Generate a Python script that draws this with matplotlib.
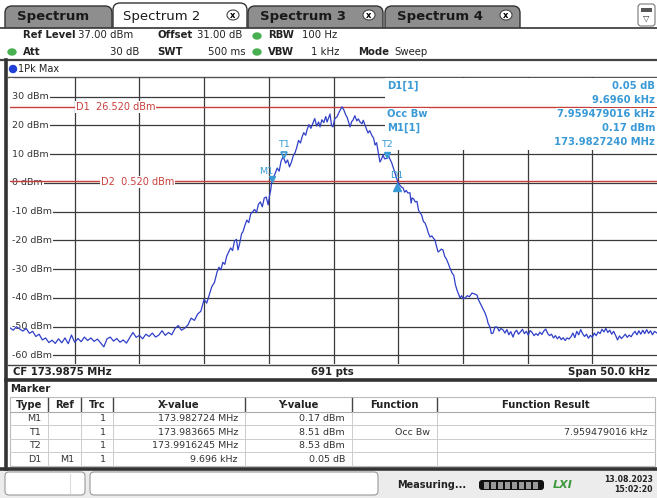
import matplotlib.pyplot as plt
from matplotlib.patches import Rectangle, FancyBboxPatch, Ellipse

# analyzer settings
center_mhz = 173.9875
span_khz = 50.0
ref_level = 37.0
n_points = 691
d1_level = 26.52
d2_level = 0.52
y_ticks = [30, 20, 10, 0, -10, -20, -30, -40, -50, -60]

# trace (offset from CF in kHz, level in dBm)
freq_khz = [
    -25.00, -24.75, -24.50, -24.25, -24.00, -23.75, -23.50, -23.25, -23.00, -22.75,
    -22.50, -22.25, -22.00, -21.75, -21.50, -21.25, -21.00, -20.75, -20.50, -20.25,
    -20.00, -19.75, -19.50, -19.25, -19.00, -18.75, -18.50, -18.25, -18.00, -17.75,
    -17.50, -17.25, -17.00, -16.75, -16.50, -16.25, -16.00, -15.75, -15.50, -15.25,
    -15.00, -14.75, -14.50, -14.25, -14.00, -13.75, -13.50, -13.25, -13.00, -12.75,
    -12.50, -12.25, -12.00, -11.75, -11.50, -11.25, -11.00, -10.75, -10.50, -10.25,
    -10.00, -9.80, -9.60, -9.40, -9.20, -9.00, -8.85, -8.70, -8.55, -8.40,
    -8.25, -8.10, -7.95, -7.80, -7.65, -7.50, -7.38, -7.25, -7.10, -7.00,
    -6.85, -6.70, -6.55, -6.40, -6.25, -6.10, -5.95, -5.80, -5.65, -5.50,
    -5.35, -5.20, -5.05, -4.95, -4.85, -4.78, -4.65, -4.50, -4.35, -4.20,
    -4.05, -3.90, -3.83, -3.70, -3.55, -3.40, -3.25, -3.10, -2.98, -2.85,
    -2.70, -2.55, -2.43, -2.30, -2.15, -2.05, -1.90, -1.75, -1.58, -1.45,
    -1.30, -1.15, -1.04, -0.90, -0.75, -0.60, -0.50, -0.38, -0.27, -0.15,
    -0.04, 0.10, 0.27, 0.45, 0.66, 0.80, 0.95, 1.04, 1.15, 1.28,
    1.40, 1.51, 1.65, 1.80, 1.92, 2.05, 2.20, 2.30, 2.43, 2.55,
    2.67, 2.80, 2.98, 3.10, 3.21, 3.33, 3.44, 3.52, 3.59, 3.70,
    3.83, 3.95, 4.12, 4.25, 4.37, 4.50, 4.60, 4.75, 4.91, 4.98,
    5.10, 5.25, 5.37, 5.50, 5.62, 5.75, 5.91, 6.00, 6.07, 6.20,
    6.32, 6.45, 6.57, 6.68, 6.80, 6.95, 7.07, 7.20, 7.33, 7.46,
    7.60, 7.72, 7.84, 7.96, 8.08, 8.20, 8.33, 8.46, 8.60, 8.72,
    8.85, 9.00, 9.16, 9.30, 9.42, 9.54, 9.66, 9.78, 9.90, 10.02,
    10.16, 10.35, 10.50, 10.70, 10.90, 11.09, 11.20, 11.32, 11.50, 11.71,
    11.85, 11.94, 12.10, 12.20, 12.33, 12.48, 12.64, 12.80, 12.95, 13.10,
    13.25, 13.40, 13.55, 13.70, 13.87, 14.00, 14.15, 14.30, 14.45, 14.60,
    14.75, 14.90, 15.05, 15.20, 15.35, 15.50, 15.65, 15.80, 15.95, 16.10,
    16.25, 16.40, 16.55, 16.70, 16.85, 17.00, 17.15, 17.30, 17.45, 17.60,
    17.75, 17.90, 18.05, 18.20, 18.35, 18.50, 18.65, 18.80, 18.95, 19.10,
    19.25, 19.40, 19.55, 19.70, 19.85, 20.00, 20.15, 20.30, 20.45, 20.60,
    20.75, 20.90, 21.05, 21.20, 21.35, 21.50, 21.65, 21.80, 21.95, 22.10,
    22.25, 22.40, 22.55, 22.70, 22.85, 23.00, 23.15, 23.30, 23.45, 23.60,
    23.75, 23.90, 24.05, 24.20, 24.35, 24.50, 24.65, 24.80, 25.00,
]
level_dbm = [
    -50.4, -51.2, -50.0, -50.8, -51.5, -50.6, -52.3, -51.6, -53.4, -52.6,
    -54.6, -53.9, -55.5, -54.7, -55.8, -54.2, -55.6, -53.9, -55.9, -52.9,
    -55.4, -54.1, -55.2, -53.6, -54.8, -53.9, -55.1, -54.3, -55.6, -57.0,
    -54.2, -53.6, -55.0, -54.1, -55.4, -54.6, -55.7, -53.8, -52.0, -53.7,
    -53.0, -54.2, -52.6, -53.4, -52.2, -53.6, -52.9, -51.4, -53.0, -52.0,
    -52.8, -50.6, -49.6, -51.2, -50.5, -49.4, -47.0, -47.8, -45.6, -44.6,
    -40.5, -41.8, -38.9, -36.0, -34.6, -31.0, -29.3, -30.2, -27.6, -28.3,
    -25.4, -24.0, -22.6, -23.5, -20.2, -19.6, -23.3, -21.0, -17.6, -17.0,
    -14.8, -12.9, -13.8, -10.8, -10.0, -9.2, -10.3, -7.4, -6.6, -8.3,
    -5.2, -4.9, -7.6, -4.6, -2.4, 0.17, 1.8, 3.4, 5.2, 4.1,
    7.6, 9.1, 8.51, 6.9, 8.0, 5.6, 7.3, 9.6, 10.4, 12.2,
    14.8, 13.9, 16.0, 17.5, 16.6, 18.4, 20.3, 19.0, 20.9, 22.4,
    19.8, 21.2, 19.5, 22.0, 21.0, 23.1, 21.2, 22.6, 24.0, 20.0,
    19.5, 22.4, 23.0, 24.8, 26.5, 25.4, 23.6, 23.0, 21.4, 19.5,
    21.3, 21.9, 23.4, 21.6, 22.3, 21.2, 20.6, 21.8, 20.2, 18.7,
    17.4, 18.2, 16.4, 15.6, 13.2, 14.0, 11.2, 9.0, 7.3, 8.2,
    9.7, 8.4, 8.53, 9.4, 8.2, 7.0, 5.6, 3.5, 1.2, 0.22,
    -0.6, -1.4, -1.7, -3.2, -2.6, -3.5, -3.4, -7.0, -5.2, -5.6,
    -6.6, -6.4, -9.4, -10.4, -11.0, -13.4, -13.9, -15.4, -17.4, -18.8,
    -18.4, -19.2, -19.8, -22.0, -24.0, -23.6, -23.0, -23.3, -25.6, -26.4,
    -27.8, -29.6, -31.3, -32.2, -35.4, -37.2, -38.6, -40.0, -39.2, -40.3,
    -40.0, -39.2, -39.6, -38.3, -38.6, -39.0, -40.6, -41.7, -43.4, -45.2,
    -47.0, -48.7, -50.2, -52.4, -52.2, -50.1, -50.1, -51.5, -50.6, -51.1,
    -52.2, -51.0, -52.8, -51.7, -53.6, -52.0, -51.2, -52.6, -51.8, -50.9,
    -52.4, -51.6, -52.9, -51.3, -52.0, -53.1, -52.4, -53.0, -51.9, -52.7,
    -51.5, -50.8, -52.3, -53.1, -52.6, -53.9, -53.1, -54.2, -53.4, -54.5,
    -53.8, -54.8, -53.9, -54.3, -53.5, -52.2, -53.8, -51.6, -52.8, -51.0,
    -52.4, -53.4, -52.6, -54.0, -53.0, -53.7, -52.2, -53.1, -51.8, -52.4,
    -50.9, -51.8, -50.6, -52.0, -51.2, -52.6, -51.6, -53.0, -54.6, -53.2,
    -54.1, -53.4, -52.6, -53.7, -52.9, -53.5, -52.4, -51.6, -52.8, -51.4,
    -52.6, -51.2, -52.4, -51.0, -52.3, -51.4, -52.8, -51.6, -52.2,
]

# marker table
table_type = ['M1', 'T1', 'T2', 'D1']
table_ref = ['', '', '', 'M1']
table_trc = ['1', '1', '1', '1']
table_x = ['173.982724 MHz', '173.983665 MHz', '173.9916245 MHz', '9.696 kHz']
table_y = ['0.17 dBm', '8.51 dBm', '8.53 dBm', '0.05 dB']
table_func = ['', 'Occ Bw', '', '']
table_result = ['', '7.959479016 kHz', '', '']

marker_mhz = [173.982724, 173.983665, 173.9916245, 173.982724 + 0.009696]
marker_dbm = [0.17, 8.51, 8.53, 0.22]

TRACE = '#2f3fc8'
RED = '#c8403c'
MK = '#3a9ad6'
GRID = '#3a3a3a'

fig = plt.figure(figsize=(6.57, 4.98), dpi=100)
bg = fig.add_axes([0, 0, 1, 1])
bg.set_xlim(0, 657)
bg.set_ylim(498, 0)
bg.axis('off')
px = bg.transData

# ---- tabs ----
bg.add_patch(Rectangle((0, 0), 657, 498, color='white', zorder=0))
tabs = [('Spectrum', 5, 112, False), ('Spectrum 2', 113, 247, True),
        ('Spectrum 3', 248, 383, False), ('Spectrum 4', 385, 520, False)]
for name, x0, x1, active in tabs:
    top = 3 if active else 6
    bg.add_patch(FancyBboxPatch((x0, top), x1 - x0, 34 - top,
                                boxstyle='round,pad=0,rounding_size=7',
                                fc='white' if active else '#8e8e8e',
                                ec='#333333', lw=1.0, zorder=1))
    bg.text(x0 + 12 if not active else x0 + 10, 16.5, name, fontsize=9.5,
            fontweight='normal' if active else 'bold', color='#1a1a1a',
            va='center', ha='left', zorder=3)
    if name != 'Spectrum':
        bg.add_patch(Ellipse((x1 - 14, 15), 12, 10, fc='white', ec='#444444',
                             lw=0.8, zorder=3))
        bg.text(x1 - 14, 15, 'x', fontsize=6, fontweight='bold', ha='center',
                va='center', zorder=4)
bg.add_patch(FancyBboxPatch((638, 4), 17, 22, boxstyle='round,pad=0,rounding_size=3',
                            fc='white', ec='#777777', lw=0.8, zorder=2))
bg.add_patch(Rectangle((641, 8), 11, 4, fc='#555555', zorder=3))
bg.text(646.5, 18, '▽', fontsize=6, ha='center', va='center', color='#333333', zorder=3)

bg.add_patch(Rectangle((0, 28), 657, 32, color='white', zorder=2))
bg.plot([0, 657], [28, 28], color='#333333', lw=1.2, zorder=3)

# ---- header ----
hdr = dict(fontsize=7.3, va='center', color='#222222', zorder=4)
bg.text(23, 35, 'Ref Level', fontweight='bold', **hdr)
bg.text(78, 35, '37.00 dBm', **hdr)
bg.text(157, 35, 'Offset', fontweight='bold', **hdr)
bg.text(197, 35, '31.00 dB', **hdr)
bg.text(268, 35, 'RBW', fontweight='bold', **hdr)
bg.text(302, 35, '100 Hz', **hdr)
bg.text(23, 52, 'Att', fontweight='bold', **hdr)
bg.text(139, 52, '30 dB', ha='right', **hdr)
bg.text(157, 52, 'SWT', fontweight='bold', **hdr)
bg.text(246, 52, '500 ms', ha='right', **hdr)
bg.text(268, 52, 'VBW', fontweight='bold', **hdr)
bg.text(339, 52, '1 kHz', ha='right', **hdr)
bg.text(358, 52, 'Mode', fontweight='bold', **hdr)
bg.text(394, 52, 'Sweep', **hdr)
for cx, cy in [(257, 36), (12, 52), (257, 52)]:
    bg.add_patch(Ellipse((cx, cy), 8, 6, color='#48b050', zorder=4))

bg.plot([0, 657], [60, 60], color='#444444', lw=1.6, zorder=3)
bg.add_patch(Ellipse((13, 69), 7, 7, color='#2040d8', zorder=4))
bg.text(18, 69, '1Pk Max', fontsize=7, va='center', color='#222222', zorder=4)
bg.plot([8, 657], [76.6, 76.6], color='#555555', lw=1.0, zorder=3)

# ---- frame ----
bg.plot([6, 6], [60, 469], color='#333333', lw=2.6, zorder=5)
bg.plot([8, 657], [364.5, 364.5], color='#444444', lw=1.0, zorder=5)
bg.plot([6, 657], [379.5, 379.5], color='#333333', lw=2.6, zorder=5)
bg.plot([0, 657], [469, 469], color='#333333', lw=2.6, zorder=5)

bar = dict(fontsize=7.3, fontweight='bold', va='center', color='#222222', zorder=4)
bg.text(13, 372, f'CF {center_mhz:.4f} MHz', ha='left', **bar)
bg.text(332, 372, f'{n_points} pts', ha='center', **bar)
bg.text(650, 372, f'Span {span_khz:.1f} kHz', ha='right', **bar)

# ---- spectrum axes ----
ax = fig.add_axes([10 / 657, (498 - 364.1) / 498, 647 / 657, (364.1 - 76.6) / 498],
                  zorder=1)
ax.set_xlim(-span_khz / 2, span_khz / 2)
ax.set_ylim(ref_level - 100, ref_level)
ax.axis('off')

for k in range(1, 10):
    ax.axvline(-25 + 5 * k, color=GRID, lw=0.9, zorder=1)
for t in y_ticks:
    ax.axhline(t, color=GRID, lw=0.9, zorder=1)
    ax.text(-24.85, t, f'{t} dBm', fontsize=6.8, va='center', ha='left',
            color='#333333', zorder=1.5,
            bbox=dict(boxstyle='square,pad=0.12', fc='white', ec='none'))
# blank margin left of the level labels
ax.add_patch(Rectangle((8, 78), 5, 285, transform=px, fc='white', ec='none', zorder=1.4))

# marker info box
ax.add_patch(Rectangle((385, 77.5), 272, 72.5, transform=px, fc='white',
                       ec='none', zorder=1.6))

ax.axhline(d1_level, color=RED, lw=1.0, zorder=2)
ax.axhline(d2_level, color=RED, lw=1.0, zorder=2)
redbox = dict(boxstyle='square,pad=0.1', fc='white', ec='none')
ax.text(75.5, 107, f'D1  {d1_level:.3f} dBm', transform=px, fontsize=7,
        color=RED, va='center', ha='left', zorder=3, bbox=redbox)
ax.text(101, 182, f'D2  {d2_level:.3f} dBm', transform=px, fontsize=7,
        color=RED, va='center', ha='left', zorder=3, bbox=redbox)

ax.plot(freq_khz, level_dbm, color=TRACE, lw=0.9, zorder=2.5)

# markers
mk_x = [(m - center_mhz) * 1000 for m in marker_mhz]
ax.plot(mk_x[0], marker_dbm[0] + 1.2, marker='v', ms=5, color=MK, zorder=4)
ax.plot(mk_x[1], marker_dbm[1] + 1.2, marker='v', ms=5, mfc='none', mec=MK, mew=1.2, zorder=4)
ax.plot(mk_x[2], marker_dbm[2] + 1.2, marker='v', ms=5, color=MK, zorder=4)
ax.plot(mk_x[3], marker_dbm[3] - 1.5, marker='^', ms=5.5, color=MK, zorder=4)
offsets = [(-0.45, 3.8), (0.0, 5.0), (0.0, 5.0), (0.0, 2.5)]
for name, x, y, (dx, dy) in zip(table_type, mk_x, marker_dbm, offsets):
    ax.text(x + dx, y + dy, name, fontsize=6.8, color=MK, ha='center',
            va='center', zorder=4)

info = dict(fontsize=7.2, fontweight='bold', color=MK, va='center', zorder=3,
            transform=px, bbox=dict(boxstyle='square,pad=0.15', fc='white', ec='none'))
ax.text(387, 86, 'D1[1]', ha='left', **info)
ax.text(655, 86, '0.05 dB', ha='right', **info)
ax.text(655, 100, '9.6960 kHz', ha='right', **info)
ax.text(387, 114, 'Occ Bw', ha='left', **info)
ax.text(655, 114, table_result[1], ha='right', **info)
ax.text(387, 128, 'M1[1]', ha='left', **info)
ax.text(655, 128, '0.17 dBm', ha='right', **info)
ax.text(655, 142, f'{marker_mhz[0]:.7f} MHz', ha='right', **info)

# ---- marker table ----
bg.text(10, 389, 'Marker', fontsize=7.3, fontweight='bold', va='center',
        color='#222222', zorder=4)
cols = [10, 48, 81, 113, 245, 352, 437, 655]
heads = ['Type', 'Ref', 'Trc', 'X-value', 'Y-value', 'Function', 'Function Result']
bg.add_patch(Rectangle((10, 397), 645, 69, fc='white', ec='#bbbbbb', lw=0.8, zorder=3))
for i, h in enumerate(heads):
    bg.text((cols[i] + cols[i + 1]) / 2, 404.5, h, fontsize=7.2, fontweight='bold',
            ha='center', va='center', color='#222222', zorder=4)
    if 0 < i:
        bg.plot([cols[i], cols[i]], [398, 411], color='#444444', lw=1.0, zorder=4)
bg.plot([10, 655], [411.5, 411.5], color='#aaaaaa', lw=0.8, zorder=4)
row_y = [418.5, 432, 445.5, 459]
for r, yy in enumerate(row_y):
    if r < 3:
        bg.plot([10, 655], [yy + 6.75, yy + 6.75], color='#cccccc', lw=0.7, zorder=4)
    cells = [table_type[r], table_ref[r], table_trc[r], table_x[r],
             table_y[r], table_func[r], table_result[r]]
    for i, c in enumerate(cells):
        bg.text(cols[i + 1] - 7, yy, c, fontsize=6.8, ha='right', va='center',
                color='#333333', zorder=5)
for c in cols[1:-1]:
    bg.plot([c, c], [411.5, 466], color='#cccccc', lw=0.7, zorder=4)

# ---- status bar ----
bg.add_patch(Rectangle((0, 470), 657, 28, color='#ececec', zorder=1))
bg.add_patch(FancyBboxPatch((5, 472), 80, 23, boxstyle='round,pad=0,rounding_size=4',
                            fc='white', ec='#999999', lw=0.8, zorder=2))
bg.plot([70, 70], [474, 493], color='#dddddd', lw=0.8, zorder=3)
bg.add_patch(FancyBboxPatch((90, 472), 288, 23, boxstyle='round,pad=0,rounding_size=4',
                            fc='white', ec='#999999', lw=0.8, zorder=2))
bg.text(397, 485, 'Measuring...', fontsize=7, fontweight='bold', va='center',
        color='#222222', zorder=3)
bg.add_patch(FancyBboxPatch((479, 480), 65, 10, boxstyle='round,pad=0,rounding_size=3',
                            fc='#111111', ec='none', zorder=2))
for k in range(8):
    bg.add_patch(Rectangle((484 + k * 7, 481.5), 5, 7, fc='#9a9a9a', ec='none', zorder=3))
bg.text(563, 485, 'LXI', fontsize=8, fontweight='bold', style='italic', color='#3c9a3c',
        ha='center', va='center', zorder=3)
bg.text(653, 479, '13.08.2023', fontsize=5.6, fontweight='bold', ha='right',
        va='center', color='#222222', zorder=3)
bg.text(653, 489, '15:02:20', fontsize=5.6, fontweight='bold', ha='right',
        va='center', color='#222222', zorder=3)

fig.savefig('out.png', dpi=100)
